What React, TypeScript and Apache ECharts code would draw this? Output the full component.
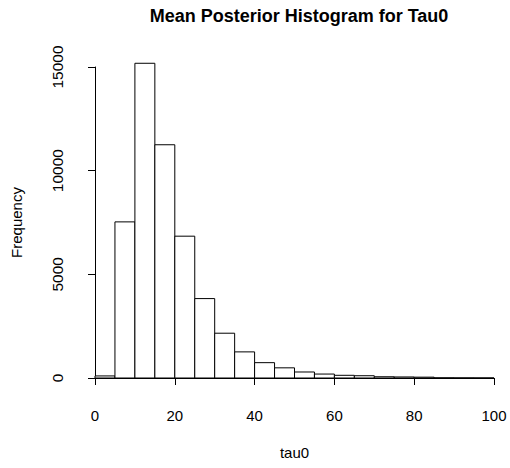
import React, { useEffect, useRef } from "react";
import * as echarts from "echarts";

const binStarts = [0, 5, 10, 15, 20, 25, 30, 35, 40, 45, 50, 55, 60, 65, 70, 75, 80, 85, 90, 95];
const binWidth = 5;
const counts = [100, 7530, 15180, 11250, 6840, 3830, 2160, 1260, 740, 490, 290, 190, 130, 110, 60, 50, 40, 8, 4, 2];
const xTicks = [0, 20, 40, 60, 80, 100];
const yTicks = [0, 5000, 10000, 15000];

export default function App() {
  const ref = useRef<HTMLDivElement>(null);
  useEffect(() => {
    if (!ref.current) return;
    const chart = echarts.init(ref.current, undefined, { renderer: "svg" });
    const data = binStarts.map((s, i) => [s, s + binWidth, counts[i]]);
    const font = "Liberation Sans, Arial, sans-serif";
    chart.setOption({
      animation: false,
      backgroundColor: "#ffffff",
      title: {
        text: "Mean Posterior Histogram for Tau0",
        left: 294,
        textAlign: "center",
        top: 2,
        textStyle: { fontFamily: font, fontSize: 18, fontWeight: "bold", color: "#000" },
      },
      grid: { left: 95, right: 16, top: 67, bottom: 90 },
      xAxis: {
        type: "value",
        min: xTicks[0],
        max: xTicks[xTicks.length - 1],
        interval: 20,
        offset: 13,
        splitLine: { show: false },
        axisLine: { show: true, lineStyle: { color: "#000", width: 1 } },
        axisTick: { show: true, length: 7, lineStyle: { color: "#000" } },
        axisLabel: { color: "#000", fontFamily: font, fontSize: 15, margin: 17, formatter: (v: number) => String(v) },
        name: "tau0",
        nameLocation: "middle",
        nameGap: 54,
        nameTextStyle: { color: "#000", fontFamily: font, fontSize: 15 },
      },
      yAxis: {
        type: "value",
        min: yTicks[0],
        max: yTicks[yTicks.length - 1],
        interval: 5000,
        offset: 16,
        splitLine: { show: false },
        axisLine: { show: true, lineStyle: { color: "#000", width: 1 } },
        axisTick: { show: true, length: 7, lineStyle: { color: "#000" } },
        axisLabel: { color: "#000", fontFamily: font, fontSize: 15.5, rotate: 90, margin: 14, formatter: (v: number) => String(v) },
        name: "Frequency",
        nameLocation: "middle",
        nameGap: 55,
        nameRotate: 90,
        nameTextStyle: { color: "#000", fontFamily: font, fontSize: 15 },
      },
      series: [
        {
          type: "custom",
          clip: false,
          data,
          encode: { x: [0, 1], y: 2 },
          renderItem: (params: any, api: any) => {
            const p0 = api.coord([api.value(0), api.value(2)]);
            const p1 = api.coord([api.value(1), 0]);
            return {
              type: "rect",
              shape: { x: p0[0], y: p0[1], width: p1[0] - p0[0], height: p1[1] - p0[1] },
              style: { fill: "#fff", stroke: "#000", lineWidth: 1 },
            };
          },
        },
      ],
    });
    return () => chart.dispose();
  }, []);
  return <div ref={ref} style={{ position: "absolute", left: 0, top: 0, width: 510, height: 468 }} />;
}
